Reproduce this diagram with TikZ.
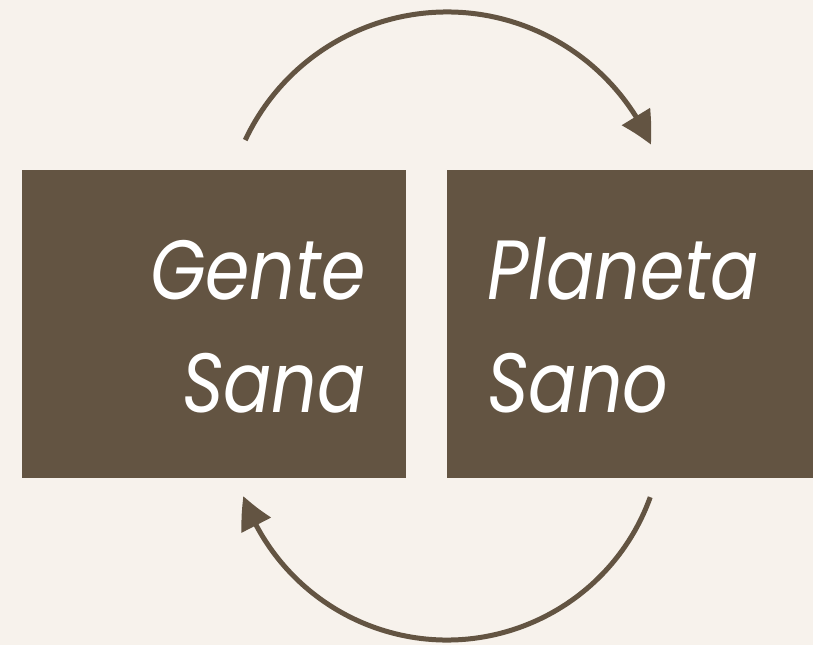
\documentclass[tikz,border=0pt]{standalone}
\usepackage{fontspec}
\setmainfont{Poppins}[FakeStretch=0.85]
\usetikzlibrary{arrows.meta,bending}
\definecolor{bgc}{HTML}{F7F2EC}
\definecolor{boxc}{HTML}{635442}
\tikzset{
  box/.style={fill=boxc,draw=none},
  lbl/.style={text=white,font=\fontsize{84}{84}\selectfont\itshape,inner sep=0pt},
  cyc/.style={draw=boxc,line width=5pt,-{Triangle[length=32pt,width=32pt,bend]}}
}
\begin{document}
\begin{tikzpicture}[x=1pt,y=1pt]
\useasboundingbox (0,0) rectangle (813,645);
\fill[bgc] (0,0) rectangle (813,645);
\path[box] (22,167) rectangle (406,475);
\path[box] (447,167) rectangle (813,475);
\node[lbl,anchor=base east] (g) at (366,345) {Gente};
\node[lbl,anchor=base east] (s) at (366,232) {Sana};
\node[lbl,anchor=base west] (p) at (487,345) {Planeta};
\node[lbl,anchor=base west] (so) at (487,232) {Sano};
\coordinate (topc) at (447,410);
\coordinate (botc) at (447,221);
\draw[cyc] ([shift={(154.8:223)}]topc) arc[start angle=154.8,end angle=23.9,radius=223];
\draw[cyc] ([shift={(-19.8:216)}]botc) arc[start angle=-19.8,end angle=-160.5,radius=216];
\end{tikzpicture}
\end{document}
